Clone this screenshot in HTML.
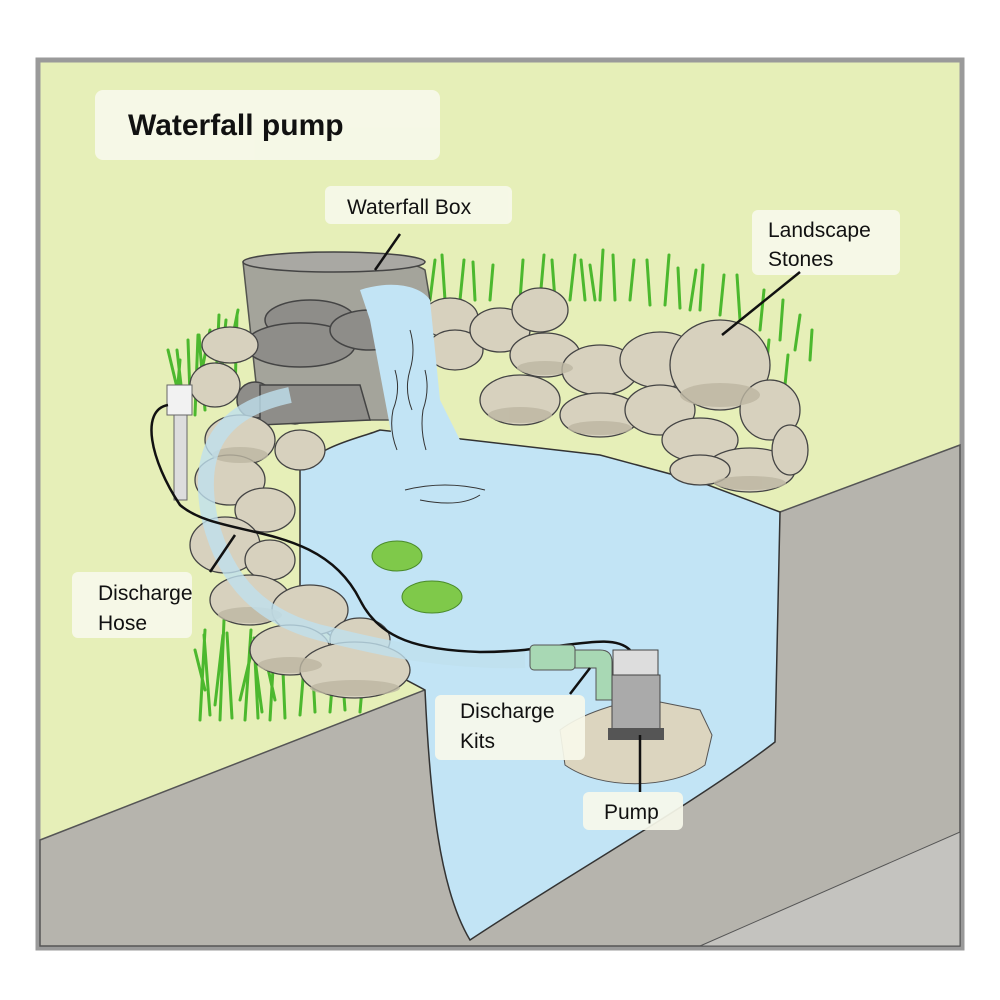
<!DOCTYPE html>
<html><head><style>
html,body{margin:0;padding:0;background:#fff;}
svg{display:block}
text{font-family:"Liberation Sans",sans-serif;fill:#111}
</style></head><body>
<svg width="1000" height="1000" viewBox="0 0 1000 1000" xmlns="http://www.w3.org/2000/svg">
<defs>
<g id="st"><ellipse cx="0" cy="0" rx="1" ry="1" fill="#d7d1be"/></g>
</defs>
<rect x="0" y="0" width="1000" height="1000" fill="#fff"/>
<rect x="38" y="60" width="924" height="888" fill="#e6efb8" stroke="#9a9a9a" stroke-width="5"/>
<!-- ground -->
<polygon points="40,840 430,688 780,512 960,445 960,946 40,946" fill="#b6b4ad" stroke="#555" stroke-width="1.5"/>
<polygon points="700,946 960,832 960,946" fill="#c4c3bf" stroke="#555" stroke-width="1"/>
<!-- grass -->
<g stroke="#4cb82e" stroke-width="3" fill="none" stroke-linecap="round">
<path d="M175,420 l5,-60 M185,420 l-8,-70 M195,415 l3,-80 M205,410 l-6,-75 M215,405 l4,-90 M225,400 l-5,-70 M235,395 l2,-80 M180,400 l-12,-50 M200,380 l10,-50 M230,350 l8,-40 M190,395 l-2,-55 M220,380 l6,-60"/>
<path d="M200,720 l5,-90 M210,715 l-6,-80 M220,720 l4,-100 M232,718 l-5,-85 M245,720 l6,-90 M258,718 l-4,-80 M270,720 l5,-85 M285,718 l-3,-70 M300,715 l5,-60 M315,712 l-3,-55 M330,712 l4,-50 M345,710 l-3,-40 M360,712 l3,-35 M205,690 l-10,-40 M240,700 l12,-50 M275,700 l-10,-45 M215,705 l8,-70 M262,712 l-8,-60"/>
<path d="M430,300 l5,-40 M445,300 l-3,-45 M460,300 l4,-40 M475,300 l-2,-38 M490,300 l3,-35 M540,300 l4,-45 M555,300 l-3,-40 M570,300 l5,-45 M585,300 l-4,-40 M600,300 l3,-50 M615,300 l-2,-45 M630,300 l4,-40 M650,305 l-3,-45 M665,305 l4,-50 M680,308 l-2,-40 M700,310 l3,-45 M720,315 l4,-40 M740,320 l-3,-45 M760,330 l4,-40 M780,340 l3,-40 M795,350 l5,-35 M810,360 l2,-30 M765,380 l4,-40 M785,385 l3,-30 M520,300 l3,-40 M595,300 l-5,-35 M690,310 l6,-40"/>
</g>
<!-- water -->
<path d="M300,470 C320,445 360,438 380,430 L470,440 L600,455 L700,482 L780,512 L775,742 C700,800 560,880 470,940 C440,890 430,800 425,690 C370,660 320,640 300,600 Z" fill="#c2e4f5" stroke="#333" stroke-width="1.5"/>
<!-- waterfall box -->
<g stroke="#444" stroke-width="1.5">
<path d="M243,262 C260,250 400,252 425,270 L430,300 L410,420 L260,420 L243,262 Z" fill="#9d9c98" opacity="0.9"/>
<ellipse cx="334" cy="262" rx="91" ry="10" fill="#a9a8a3"/>
<ellipse cx="310" cy="320" rx="45" ry="20" fill="#8e8d89"/>
<ellipse cx="300" cy="345" rx="55" ry="22" fill="#8e8d89"/>
<ellipse cx="370" cy="330" rx="40" ry="20" fill="#8e8d89"/>
<ellipse cx="255" cy="400" rx="18" ry="18" fill="#8e8d89"/>
<ellipse cx="295" cy="408" rx="14" ry="16" fill="#8e8d89"/>
<path d="M260,385 L360,385 L370,420 L260,425 Z" fill="#8e8d89"/>
</g>
<!-- stones -->
<g fill="#d7d1be" stroke="#444" stroke-width="1.3">
<ellipse cx="230" cy="345" rx="28" ry="18"/>
<ellipse cx="215" cy="385" rx="25" ry="22"/>
<ellipse cx="240" cy="440" rx="35" ry="25"/>
<ellipse cx="230" cy="480" rx="35" ry="25"/>
<ellipse cx="265" cy="510" rx="30" ry="22"/>
<ellipse cx="225" cy="545" rx="35" ry="28"/>
<ellipse cx="270" cy="560" rx="25" ry="20"/>
<ellipse cx="250" cy="600" rx="40" ry="25"/>
<ellipse cx="310" cy="610" rx="38" ry="25"/>
<ellipse cx="290" cy="650" rx="40" ry="25"/>
<ellipse cx="360" cy="640" rx="30" ry="22"/>
<ellipse cx="355" cy="670" rx="55" ry="28"/>
<ellipse cx="300" cy="450" rx="25" ry="20"/>
<ellipse cx="450" cy="318" rx="28" ry="20"/>
<ellipse cx="455" cy="350" rx="28" ry="20"/>
<ellipse cx="500" cy="330" rx="30" ry="22"/>
<ellipse cx="540" cy="310" rx="28" ry="22"/>
<ellipse cx="545" cy="355" rx="35" ry="22"/>
<ellipse cx="520" cy="400" rx="40" ry="25"/>
<ellipse cx="600" cy="370" rx="38" ry="25"/>
<ellipse cx="600" cy="415" rx="40" ry="22"/>
<ellipse cx="660" cy="360" rx="40" ry="28"/>
<ellipse cx="660" cy="410" rx="35" ry="25"/>
<ellipse cx="720" cy="365" rx="50" ry="45"/>
<ellipse cx="700" cy="440" rx="38" ry="22"/>
<ellipse cx="770" cy="410" rx="30" ry="30"/>
<ellipse cx="750" cy="470" rx="45" ry="22"/>
<ellipse cx="790" cy="450" rx="18" ry="25"/>
<ellipse cx="700" cy="470" rx="30" ry="15"/>
</g>
<g fill="#bdb6a2" opacity="0.8">
<ellipse cx="240" cy="455" rx="28" ry="8"/><ellipse cx="250" cy="615" rx="32" ry="8"/><ellipse cx="355" cy="688" rx="45" ry="8"/>
<ellipse cx="520" cy="415" rx="32" ry="8"/><ellipse cx="600" cy="428" rx="32" ry="7"/><ellipse cx="720" cy="395" rx="40" ry="12"/>
<ellipse cx="750" cy="483" rx="36" ry="7"/><ellipse cx="545" cy="368" rx="28" ry="7"/><ellipse cx="290" cy="665" rx="32" ry="8"/>
</g>
<!-- waterfall -->
<path d="M360,290 C390,280 420,285 430,300 L440,400 L460,440 L480,480 L400,480 L385,400 L370,320 Z" fill="#c2e4f5"/>
<g stroke="#333" stroke-width="1" fill="none">
<path d="M410,330 q6,20 0,40 q-6,20 2,40"/><path d="M395,370 q6,20 -2,40 q-4,20 4,40"/><path d="M425,370 q5,20 -2,40 q-3,20 3,40"/>
<path d="M405,490 q40,-10 80,0 M420,500 q40,8 60,-5"/>
</g>
<!-- lily pads -->
<ellipse cx="397" cy="556" rx="25" ry="15" fill="#7fc94a" stroke="#4a8a2a"/>
<ellipse cx="432" cy="597" rx="30" ry="16" fill="#7fc94a" stroke="#4a8a2a"/>
<!-- hose -->
<path d="M290,395 C220,410 195,450 210,520 C225,580 260,620 330,635 C390,650 450,662 525,660" fill="none" stroke="#bfe0ee" stroke-width="16" opacity="0.8"/>
<!-- outlet -->
<rect x="174" y="400" width="13" height="100" fill="#ddd" stroke="#666"/>
<rect x="167" y="385" width="25" height="30" fill="#f2f2f2" stroke="#666"/>
<!-- cable -->
<path d="M168,405 C140,410 150,460 180,505 C220,540 320,520 360,600 C380,640 420,650 480,652 C560,652 610,630 630,650" fill="none" stroke="#111" stroke-width="2.5"/>
<!-- pump base -->
<path d="M560,730 C580,715 620,700 650,700 L700,710 L712,735 L705,765 C670,790 600,790 565,765 Z" fill="#dcd5bf" stroke="#555"/>
<!-- discharge kit -->
<rect x="530" y="645" width="45" height="25" rx="4" fill="#a8d8b4" stroke="#555"/>
<path d="M575,650 L600,650 Q612,650 612,662 L612,700 L596,700 L596,668 L575,668 Z" fill="#a8d8b4" stroke="#555"/>
<!-- pump -->
<rect x="613" y="650" width="45" height="30" fill="#ddd" stroke="#444"/>
<rect x="612" y="675" width="48" height="60" fill="#aaa" stroke="#444"/>
<rect x="608" y="728" width="56" height="12" fill="#555"/>
<!-- labels -->
<g fill="#f7f9ea" opacity="0.92">
<rect x="95" y="90" width="345" height="70" rx="8"/>
<rect x="325" y="186" width="187" height="38" rx="6"/>
<rect x="752" y="210" width="148" height="65" rx="6"/>
<rect x="72" y="572" width="120" height="66" rx="6"/>
<rect x="435" y="695" width="150" height="65" rx="6"/>
<rect x="583" y="792" width="100" height="38" rx="6"/>
</g>
<g stroke="#111" stroke-width="2.5">
<line x1="375" y1="270" x2="400" y2="234"/>
<line x1="800" y1="272" x2="722" y2="335"/>
<line x1="235" y1="535" x2="210" y2="572"/>
<line x1="570" y1="694" x2="590" y2="668"/>
<line x1="640" y1="735" x2="640" y2="792"/>
</g>
<text x="128" y="135" font-size="30" font-weight="bold">Waterfall pump</text>
<text x="347" y="214" font-size="21">Waterfall Box</text>
<text x="768" y="237" font-size="21">Landscape</text>
<text x="768" y="266" font-size="21">Stones</text>
<text x="98" y="600" font-size="21">Discharge</text>
<text x="98" y="630" font-size="21">Hose</text>
<text x="460" y="718" font-size="21">Discharge</text>
<text x="460" y="748" font-size="21">Kits</text>
<text x="604" y="819" font-size="21">Pump</text>
</svg>
</body></html>
